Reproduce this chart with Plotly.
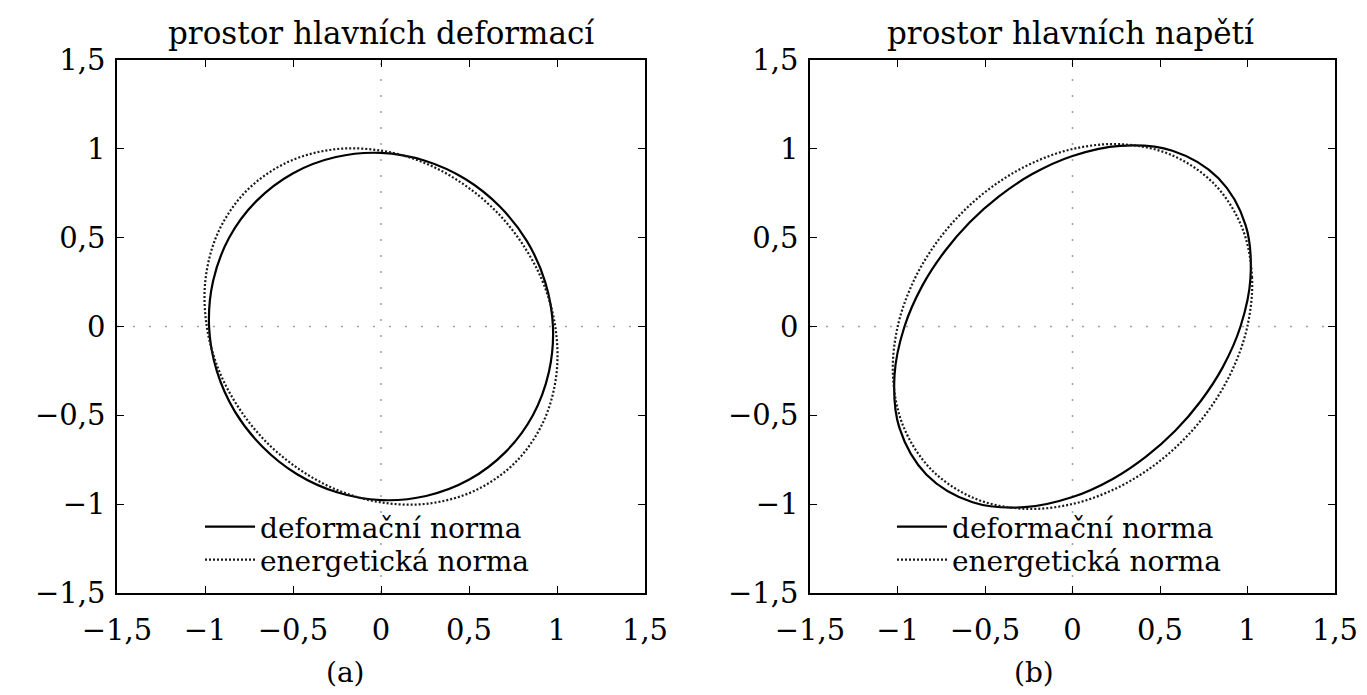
import plotly.graph_objects as go

# ---------------- data ----------------
tick_vals = [-1.5, -1, -0.5, 0, 0.5, 1, 1.5]
tick_text = ["−1,5", "−1", "−0,5", "0", "0,5", "1", "1,5"]

titles = ["prostor hlavních deformací", "prostor hlavních napětí"]
captions = ["(a)", "(b)"]
series_names = ["deformační norma", "energetická norma"]

# panel (a) - principal strain space
a_def_x = [0.977, 0.933, 0.830, 0.675, 0.479, 0.250, 0.000, -0.256, -0.499, -0.707, -0.863, -0.954,
           -0.977, -0.933, -0.830, -0.675, -0.479, -0.250, 0.000, 0.256, 0.499, 0.707, 0.863, 0.954, 0.977]
a_def_y = [0.000, 0.250, 0.479, 0.675, 0.830, 0.933, 0.977, 0.954, 0.863, 0.707, 0.499, 0.256,
           0.000, -0.250, -0.479, -0.675, -0.830, -0.933, -0.977, -0.954, -0.863, -0.707, -0.499, -0.256, 0.000]
a_en_x = [0.990, 0.921, 0.804, 0.651, 0.464, 0.247, 0.000, -0.267, -0.533, -0.764, -0.924, -0.997,
          -0.990, -0.921, -0.804, -0.651, -0.464, -0.247, 0.000, 0.267, 0.533, 0.764, 0.924, 0.997, 0.990]
a_en_y = [0.000, 0.247, 0.464, 0.651, 0.804, 0.921, 0.990, 0.997, 0.924, 0.764, 0.533, 0.267,
          0.000, -0.247, -0.464, -0.651, -0.804, -0.921, -0.990, -0.997, -0.924, -0.764, -0.533, -0.267, 0.000]

# panel (b) - principal stress space
b_def_x = [0.960, 1.017, 0.989, 0.834, 0.571, 0.273, 0.000, -0.230, -0.422, -0.587, -0.731, -0.858,
           -0.960, -1.017, -0.989, -0.834, -0.571, -0.273, 0.000, 0.230, 0.422, 0.587, 0.731, 0.858, 0.960]
b_def_y = [0.000, 0.273, 0.571, 0.834, 0.989, 1.017, 0.960, 0.858, 0.731, 0.587, 0.422, 0.230,
           0.000, -0.273, -0.571, -0.834, -0.989, -1.017, -0.960, -0.858, -0.731, -0.587, -0.422, -0.230, 0.000]
b_en_x = [0.999, 1.026, 0.968, 0.806, 0.559, 0.275, 0.000, -0.245, -0.456, -0.636, -0.789, -0.913,
          -0.999, -1.026, -0.968, -0.806, -0.559, -0.275, 0.000, 0.245, 0.456, 0.636, 0.789, 0.913, 0.999]
b_en_y = [0.000, 0.275, 0.559, 0.806, 0.968, 1.026, 0.999, 0.913, 0.789, 0.636, 0.456, 0.245,
          0.000, -0.275, -0.559, -0.806, -0.968, -1.026, -0.999, -0.913, -0.789, -0.636, -0.456, -0.245, 0.000]

# ---------------- figure ----------------
W, H = 1367, 695
FONT = "DejaVu Serif"

fig = go.Figure()

solid = dict(color="black", width=2.2, shape="spline", smoothing=1.0)
dotted = dict(color="#1a1a1a", width=2.2, dash="2px,2px", shape="spline", smoothing=1.0)

fig.add_trace(go.Scatter(x=a_def_x, y=a_def_y, mode="lines", line=solid, name=series_names[0],
                         xaxis="x", yaxis="y", legend="legend", showlegend=True))
fig.add_trace(go.Scatter(x=a_en_x, y=a_en_y, mode="lines", line=dotted, name=series_names[1],
                         xaxis="x", yaxis="y", legend="legend2", showlegend=True))
fig.add_trace(go.Scatter(x=b_def_x, y=b_def_y, mode="lines", line=solid, name=series_names[0],
                         xaxis="x2", yaxis="y2", legend="legend3", showlegend=True))
fig.add_trace(go.Scatter(x=b_en_x, y=b_en_y, mode="lines", line=dotted, name=series_names[1],
                         xaxis="x2", yaxis="y2", legend="legend4", showlegend=True))

px_x = lambda p: p / W
px_y = lambda p: 1 - p / H

dom_y = [px_y(593), px_y(60)]
dom_a = [px_x(117), px_x(645)]
dom_b = [px_x(810), px_x(1335)]

axis_common = dict(
    range=[-1.5, 1.5], tickmode="array", tickvals=tick_vals, ticktext=tick_text,
    showgrid=False, zeroline=False, showline=True, linecolor="black", linewidth=1.6,
    mirror="ticks", ticks="inside", ticklen=7, tickwidth=1.2, tickcolor="black",
    tickfont=dict(family=FONT, size=29, color="black"), fixedrange=True,
)

fig.update_layout(
    width=W, height=H,
    margin=dict(l=0, r=0, t=0, b=0),
    paper_bgcolor="white", plot_bgcolor="white",
    template="none",
    showlegend=True,
    font=dict(family=FONT, size=29, color="black"),
    xaxis=dict(domain=dom_a, anchor="y", ticklabelstandoff=10, **axis_common),
    yaxis=dict(domain=dom_y, anchor="x", ticklabelstandoff=4, **axis_common),
    xaxis2=dict(domain=dom_b, anchor="y2", ticklabelstandoff=10, **axis_common),
    yaxis2=dict(domain=dom_y, anchor="x2", ticklabelstandoff=4, **axis_common),
)

leg_common = dict(bgcolor="rgba(0,0,0,0)", borderwidth=0, xanchor="left", yanchor="middle",
                  font=dict(family=FONT, size=28, color="black"), itemwidth=50,
                  itemclick=False, itemdoubleclick=False, visible=True)
fig.update_layout(
    legend=dict(x=px_x(200), y=px_y(527), **leg_common),
    legend2=dict(x=px_x(200), y=px_y(560), **leg_common),
    legend3=dict(x=px_x(892), y=px_y(527), **leg_common),
    legend4=dict(x=px_x(892), y=px_y(560), **leg_common),
)

# faint dotted axes through the origin
for xr, yr in (("x", "y"), ("x2", "y2")):
    fig.add_shape(type="line", xref=xr, yref=yr, x0=0, x1=0, y0=-1.5, y1=1.5,
                  line=dict(color="#a0a0a0", width=1.5, dash="2px,14px"), layer="below")
    fig.add_shape(type="line", xref=xr, yref=yr, x0=-1.5, x1=1.5, y0=0, y1=0,
                  line=dict(color="#a0a0a0", width=1.5, dash="2px,14px"), layer="below")

# panel titles and captions
fig.add_annotation(text=titles[0], x=px_x(381), y=px_y(33), xref="paper", yref="paper",
                   showarrow=False, xanchor="center", yanchor="middle",
                   font=dict(family=FONT, size=31, color="black"))
fig.add_annotation(text=titles[1], x=px_x(1071), y=px_y(33), xref="paper", yref="paper",
                   showarrow=False, xanchor="center", yanchor="middle",
                   font=dict(family=FONT, size=31, color="black"))
fig.add_annotation(text=captions[0], x=px_x(345), y=px_y(672), xref="paper", yref="paper",
                   showarrow=False, xanchor="center", yanchor="middle",
                   font=dict(family=FONT, size=28, color="black"))
fig.add_annotation(text=captions[1], x=px_x(1034), y=px_y(672), xref="paper", yref="paper",
                   showarrow=False, xanchor="center", yanchor="middle",
                   font=dict(family=FONT, size=28, color="black"))

fig.write_html("out.html", config={"displayModeBar": False},
               post_script="document.body.style.margin='0';document.body.style.overflow='hidden';")
